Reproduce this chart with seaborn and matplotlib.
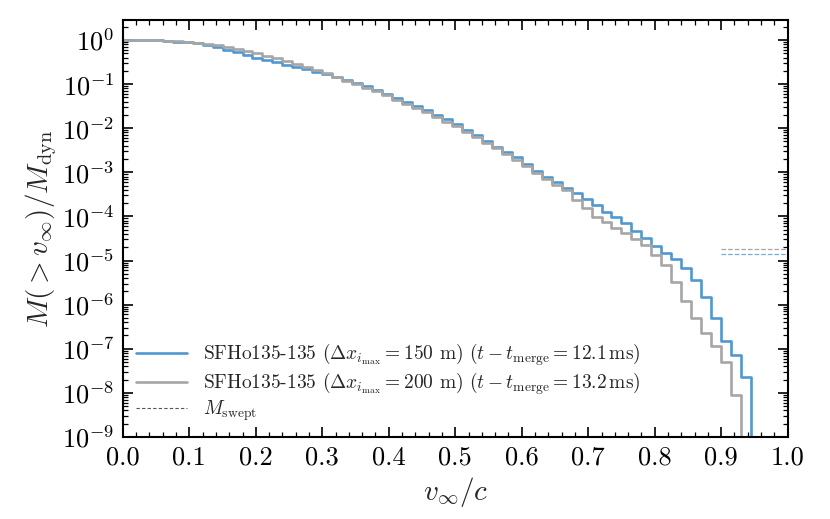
import numpy as np
import pandas as pd
import matplotlib
matplotlib.use("Agg")
import matplotlib.pyplot as plt
import seaborn as sns
from matplotlib.ticker import MultipleLocator, LogLocator, NullFormatter

# bin width in v/c, bins start at 0
bin_width = 0.015

# log10 M(>v)/M_dyn per bin
log_m_150 = [0.0, -0.002, -0.005, -0.01, -0.02, -0.035, -0.055, -0.08, -0.12, -0.17,
             -0.22, -0.28, -0.34, -0.40, -0.46, -0.51, -0.56, -0.61, -0.66, -0.72,
             -0.78, -0.84, -0.91, -0.98, -1.05, -1.13, -1.22, -1.32, -1.41, -1.49,
             -1.59, -1.69, -1.80, -1.90, -2.03, -2.15, -2.29, -2.42, -2.53, -2.66,
             -2.81, -2.97, -3.10, -3.22, -3.35, -3.47, -3.61, -3.73, -3.89, -4.02,
             -4.16, -4.32, -4.50, -4.66, -4.82, -4.97, -5.16, -5.43, -5.83, -6.30,
             -6.82, -7.15, -7.64]
log_m_200 = [0.0, -0.002, -0.004, -0.008, -0.015, -0.025, -0.04, -0.065, -0.09, -0.12,
             -0.16, -0.20, -0.25, -0.30, -0.36, -0.42, -0.48, -0.54, -0.61, -0.68,
             -0.76, -0.84, -0.92, -1.00, -1.08, -1.16, -1.25, -1.36, -1.45, -1.54,
             -1.64, -1.74, -1.85, -1.95, -2.08, -2.20, -2.33, -2.46, -2.58, -2.71,
             -2.86, -3.02, -3.15, -3.29, -3.40, -3.63, -3.80, -4.01, -4.13, -4.27,
             -4.38, -4.52, -4.65, -4.87, -5.09, -5.49, -5.91, -6.31, -6.65, -6.94,
             -7.30, -8.05]

# swept mass for each run
m_swept_150 = 1.38e-5
m_swept_200 = 1.8e-5

label_150 = r"SFHo135-135 ($\Delta x_{i_\mathrm{max}} = 150$ m) ($t - t_\mathrm{merge} = 12.1\,\mathrm{ms}$)"
label_200 = r"SFHo135-135 ($\Delta x_{i_\mathrm{max}} = 200$ m) ($t - t_\mathrm{merge} = 13.2\,\mathrm{ms}$)"

blue = "#5098cf"
grey = "#a6a6a6"


def steps_frame(log_m, label):
    # edges of the bins, last edge drops to (almost) zero mass
    n = len(log_m)
    v = np.arange(n + 1) * bin_width
    m = list(10.0 ** np.array(log_m)) + [1e-14]
    return pd.DataFrame({"v": v, "m": m, "run": label})


df = pd.concat([steps_frame(log_m_150, label_150), steps_frame(log_m_200, label_200)])

sns.set_theme(style="ticks")
plt.rcParams["font.family"] = ["cmr10", "DejaVu Serif"]
plt.rcParams["mathtext.fontset"] = "cm"
plt.rcParams["axes.formatter.use_mathtext"] = True

fig, ax = plt.subplots(figsize=(8.3, 5.19), dpi=100)
fig.subplots_adjust(left=0.148, right=0.949, top=0.961, bottom=0.158)

sns.lineplot(data=df, x="v", y="m", hue="run", palette=[blue, grey],
             drawstyle="steps-post", estimator=None, sort=False, lw=1.9, ax=ax)

ax.set_yscale("log")
ax.set_xlim(0, 1)
ax.set_ylim(1e-9, 2.8)

# swept mass markers on the right
ax.axhline(m_swept_200, xmin=0.9, xmax=1.0, ls="--", lw=0.9, color=grey)
ax.axhline(m_swept_150, xmin=0.9, xmax=1.0, ls="--", lw=0.9, color=blue, alpha=0.8)
ax.plot([], [], ls=(0, (3, 2)), lw=0.8, color="#555555", label=r"$M_\mathrm{swept}$")

ax.xaxis.set_major_locator(MultipleLocator(0.1))
ax.xaxis.set_minor_locator(MultipleLocator(0.02))
ax.yaxis.set_major_locator(LogLocator(base=10, numticks=20))
ax.yaxis.set_minor_locator(LogLocator(base=10, subs=np.arange(2, 10), numticks=20))
ax.yaxis.set_minor_formatter(NullFormatter())
ax.xaxis.set_major_formatter(matplotlib.ticker.FormatStrFormatter("%.1f"))

ax.tick_params(which="both", direction="in", top=True, right=True, colors="black")
ax.tick_params(which="major", length=7, width=1.2, labelsize=19, pad=6)
ax.tick_params(which="minor", length=3.5, width=0.9)
for s in ax.spines.values():
    s.set_linewidth(1.5)
    s.set_color("black")

ax.set_xlabel(r"$v_\infty/c$", fontsize=21, labelpad=4)
ax.set_ylabel(r"$M(>v_\infty)/M_\mathrm{dyn}$", fontsize=21, labelpad=2)

handles, labels = ax.get_legend_handles_labels()
ax.legend(handles, labels, loc="lower left", frameon=False, fontsize=14,
          handlelength=2.6, borderaxespad=0.3, labelspacing=0.1,
          bbox_to_anchor=(0.0, 0.0))

fig.savefig("out.png", dpi=100)
